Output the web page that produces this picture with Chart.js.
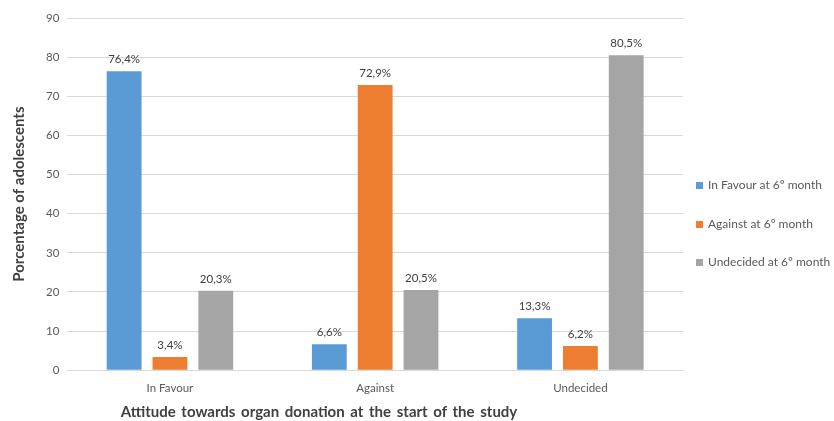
<!DOCTYPE html>
<html>
<head>
<meta charset="utf-8">
<script src="https://cdn.jsdelivr.net/npm/chart.js@4"></script>
<style>
  body { margin: 0; background: #fff; font-family: Lato, sans-serif; }
  #wrap { position: relative; width: 834px; height: 421px; }
  #legend { position: absolute; left: 696px; top: 177px; font-size: 12px; color: #595959; }
  #legend div { height: 38.5px; white-space: nowrap; }
  #legend span { display: inline-block; width: 7px; height: 7px; margin-right: 5px; }
  #xtitle { position: absolute; left: 0; width: 638px; top: 401px; text-align: center;
            font: bold 15px Lato, sans-serif; color: #404040; word-spacing: 2px; line-height: 20px; }
</style>
</head>
<body>
<div id="wrap">
  <canvas id="chart" width="834" height="421"></canvas>
  <div id="legend"></div>
  <div id="xtitle">Attitude towards organ donation at the start of the study</div>
</div>
<script>
const categories = ['In Favour', 'Against', 'Undecided'];
const seriesNames = ['In Favour at 6º month', 'Against at 6º month', 'Undecided at 6º month'];
const inFavour6 = [76.4, 6.6, 13.3];
const against6 = [3.4, 72.9, 6.2];
const undecided6 = [20.3, 20.5, 80.5];
const colors = ['#5B9BD5', '#ED7D31', '#A5A5A5'];

const seriesValues = [inFavour6, against6, undecided6];

// value labels above each bar, with a decimal comma
const barLabels = {
    id: 'barLabels',
    afterDatasetsDraw(chart) {
        const c = chart.ctx;
        c.save();
        c.font = '11.5px Lato';
        c.fillStyle = '#404040';
        c.textAlign = 'center';
        c.textBaseline = 'bottom';
        chart.data.datasets.forEach((ds, i) => {
            chart.getDatasetMeta(i).data.forEach((bar, j) => {
                c.fillText(ds.data[j].toFixed(1).replace('.', ',') + '%', bar.x, bar.y - 6);
            });
        });
        c.restore();
    }
};

new Chart(document.getElementById('chart'), {
    type: 'bar',
    data: {
        labels: categories,
        datasets: seriesValues.map((vals, i) => ({
            label: seriesNames[i],
            data: vals,
            backgroundColor: colors[i],
            categoryPercentage: 0.67,
            barPercentage: 0.76
        }))
    },
    options: {
        responsive: false,
        animation: false,
        layout: { padding: { top: 18, right: 151, bottom: 23, left: 10 } },
        scales: {
            x: {
                grid: { display: false },
                border: { color: '#d9d9d9' },
                ticks: { color: '#595959', font: { family: 'Lato', size: 11.5 }, padding: 3 }
            },
            y: {
                min: 0,
                max: 90,
                ticks: { stepSize: 10, color: '#595959', font: { family: 'Lato', size: 11.5 }, padding: 8 },
                grid: { color: '#d9d9d9', drawTicks: false },
                border: { display: false },
                title: {
                    display: true,
                    text: 'Porcentage of adolescents',
                    color: '#404040',
                    font: { family: 'Lato', size: 15, weight: 'bold' },
                    padding: { top: 0, bottom: 10 }
                }
            }
        },
        plugins: {
            legend: { display: false },
            tooltip: { enabled: false }
        }
    },
    plugins: [barLabels]
});

const legend = document.getElementById('legend');
seriesNames.forEach((name, i) => {
    const row = document.createElement('div');
    const box = document.createElement('span');
    box.style.background = colors[i];
    row.appendChild(box);
    row.appendChild(document.createTextNode(name));
    legend.appendChild(row);
});
</script>
</body>
</html>
